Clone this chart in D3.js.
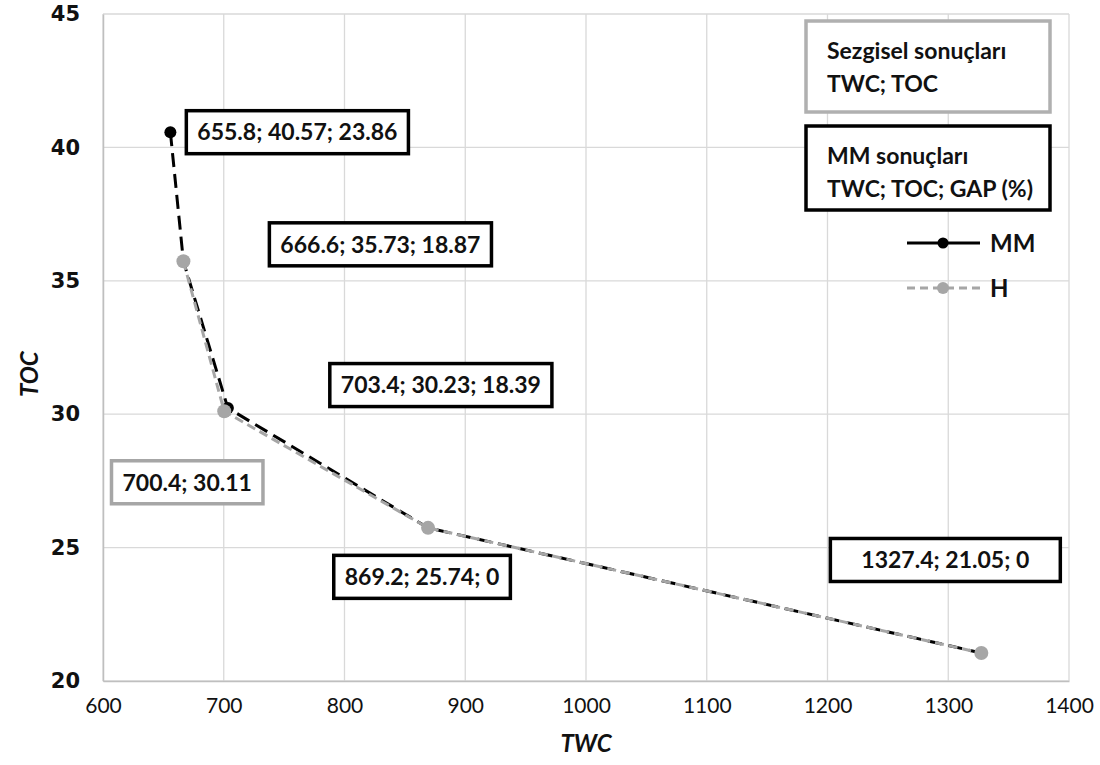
<!DOCTYPE html>
<html><head><meta charset="utf-8">
<script src="https://cdn.jsdelivr.net/npm/d3@7"></script>
<style>
html,body{margin:0;padding:0;background:#fff;}
svg{display:block;}
</style></head>
<body>
<svg id="chart" width="1100" height="765"></svg>
<script>
// ---- data ----
const mmTWC = [655.8, 666.6, 703.4, 869.2, 1327.4];
const mmTOC = [40.57, 35.73, 30.23, 25.74, 21.05];
const mmGAP = [23.86, 18.87, 18.39, 0, 0];
const hTWC = [666.6, 700.4, 869.2, 1327.4];
const hTOC = [35.73, 30.11, 25.74, 21.05];
const xTicks = [600, 700, 800, 900, 1000, 1100, 1200, 1300, 1400];
const yTicks = [20, 25, 30, 35, 40, 45];
const seriesNames = ["MM", "H"];
const legendBoxTexts = [["Sezgisel sonuçları", "TWC; TOC"], ["MM sonuçları", "TWC; TOC; GAP (%)"]];

// label layout (px relative to point, and horizontal padding)
const mmLabelOffsets = [[127, 0], [197, -17], [213, -23], [-6, 49], [-36, -93]];
const mmLabelPads = [22, 22, 22, 22, 62];
const hLabelOffsets = [null, [-37, 71], null, null];

const svg = d3.select("#chart");
const L = 103, R = 1069, T = 14, B = 681;
const x = d3.scaleLinear().domain([600, 1400]).range([L, R]);
const y = d3.scaleLinear().domain([20, 45]).range([B, T]);

const FONT = "Lato, 'Open Sans', sans-serif";

// grid
svg.append("g").selectAll("line.v").data(xTicks).join("line")
  .attr("x1", d => x(d)).attr("x2", d => x(d)).attr("y1", T).attr("y2", B)
  .attr("stroke", "#d9d9d9").attr("stroke-width", 1.3);
svg.append("g").selectAll("line.h").data(yTicks).join("line")
  .attr("x1", L).attr("x2", R).attr("y1", d => y(d)).attr("y2", d => y(d))
  .attr("stroke", "#d9d9d9").attr("stroke-width", 1.3);

// axes
const xAxis = d3.axisBottom(x).tickValues(xTicks).tickFormat(d3.format("d")).tickSize(0).tickPadding(17);
const gx = svg.append("g").attr("transform", `translate(0,${B})`).call(xAxis);
gx.select(".domain").attr("stroke", "#bfbfbf").attr("stroke-width", 1.5);
gx.selectAll("text").attr("font-family", FONT).attr("font-size", 21).attr("fill", "#111");

const yAxis = d3.axisLeft(y).tickValues(yTicks).tickFormat(d3.format("d")).tickSize(0).tickPadding(23);
const gy = svg.append("g").attr("transform", `translate(${L},0)`).call(yAxis);
gy.select(".domain").attr("stroke", "#bfbfbf").attr("stroke-width", 1.5);
gy.selectAll("text").attr("font-family", "'DejaVu Sans', Verdana, sans-serif").attr("font-weight", "bold")
  .attr("font-size", 21).attr("fill", "#111");

// axis titles
svg.append("text").attr("x", x(1000)).attr("y", 752).attr("text-anchor", "middle")
  .attr("font-family", FONT).attr("font-weight", "bold").attr("font-style", "italic")
  .attr("font-size", 24).attr("fill", "#111").text("TWC");
svg.append("text").attr("transform", `translate(38,${y(31.5)}) rotate(-90)`).attr("text-anchor", "middle")
  .attr("font-family", FONT).attr("font-weight", "bold").attr("font-style", "italic")
  .attr("font-size", 24).attr("fill", "#111").text("TOC");

// series
const mm = mmTWC.map((v, i) => ({x: v, y: mmTOC[i], gap: mmGAP[i]}));
const h = hTWC.map((v, i) => ({x: v, y: hTOC[i]}));
const line = d3.line().x(d => x(d.x)).y(d => y(d.y));

svg.append("path").datum(mm).attr("d", line).attr("fill", "none")
  .attr("stroke", "#000").attr("stroke-width", 3).attr("stroke-dasharray", "14,7");
svg.selectAll("circle.mm").data(mm).join("circle")
  .attr("cx", d => x(d.x)).attr("cy", d => y(d.y)).attr("r", 6).attr("fill", "#000");

svg.append("path").datum(h).attr("d", line).attr("fill", "none")
  .attr("stroke", "#a6a6a6").attr("stroke-width", 3).attr("stroke-dasharray", "9,5");
svg.selectAll("circle.h").data(h).join("circle")
  .attr("cx", d => x(d.x)).attr("cy", d => y(d.y)).attr("r", 7).attr("fill", "#a6a6a6");

// label boxes
function labelBox(cx, cy, txt, color, pad) {
  const g = svg.append("g");
  const t = g.append("text").attr("x", cx).attr("y", cy).attr("dy", "0.36em").attr("text-anchor", "middle")
    .attr("font-family", FONT).attr("font-weight", "bold").attr("font-size", 23).attr("fill", "#111").text(txt);
  const w = t.node().getComputedTextLength() + pad;
  const hh = 43;
  g.insert("rect", "text").attr("x", cx - w / 2).attr("y", cy - hh / 2).attr("width", w).attr("height", hh)
    .attr("fill", "#fff").attr("stroke", color).attr("stroke-width", 3.5);
}
mm.forEach((d, i) => {
  const o = mmLabelOffsets[i];
  labelBox(x(d.x) + o[0], y(d.y) + o[1], `${d.x}; ${d.y}; ${d.gap}`, "#000", mmLabelPads[i]);
});
h.forEach((d, i) => {
  const o = hLabelOffsets[i];
  if (o) labelBox(x(d.x) + o[0], y(d.y) + o[1], `${d.x}; ${d.y}`, "#a6a6a6", 22);
});

// legend boxes
const boxColors = ["#b0b0b0", "#000"];
const boxTops = [21, 126];
const boxHeights = [91, 84];
legendBoxTexts.forEach((lines, i) => {
  const g = svg.append("g");
  g.append("rect").attr("x", 806).attr("y", boxTops[i]).attr("width", 244).attr("height", boxHeights[i])
    .attr("fill", "#fff").attr("stroke", boxColors[i]).attr("stroke-width", 3.5);
  lines.forEach((s, j) => {
    g.append("text").attr("x", 827).attr("y", boxTops[i] + 38 + j * 33)
      .attr("font-family", FONT).attr("font-weight", "bold").attr("font-size", 23).attr("fill", "#111").text(s);
  });
});

// series legend
const legY = [243, 288];
const legStyles = [{c: "#000", dash: null, r: 5.5}, {c: "#a6a6a6", dash: "8,5", r: 6}];
seriesNames.forEach((n, i) => {
  const st = legStyles[i];
  svg.append("line").attr("x1", 907).attr("x2", 980).attr("y1", legY[i]).attr("y2", legY[i])
    .attr("stroke", st.c).attr("stroke-width", 3).attr("stroke-dasharray", st.dash);
  svg.append("circle").attr("cx", 943).attr("cy", legY[i]).attr("r", st.r).attr("fill", st.c);
  svg.append("text").attr("x", 990).attr("y", legY[i]).attr("dy", "0.36em")
    .attr("font-family", FONT).attr("font-weight", "bold").attr("font-size", 24).attr("fill", "#111").text(n);
});
</script>
</body></html>
